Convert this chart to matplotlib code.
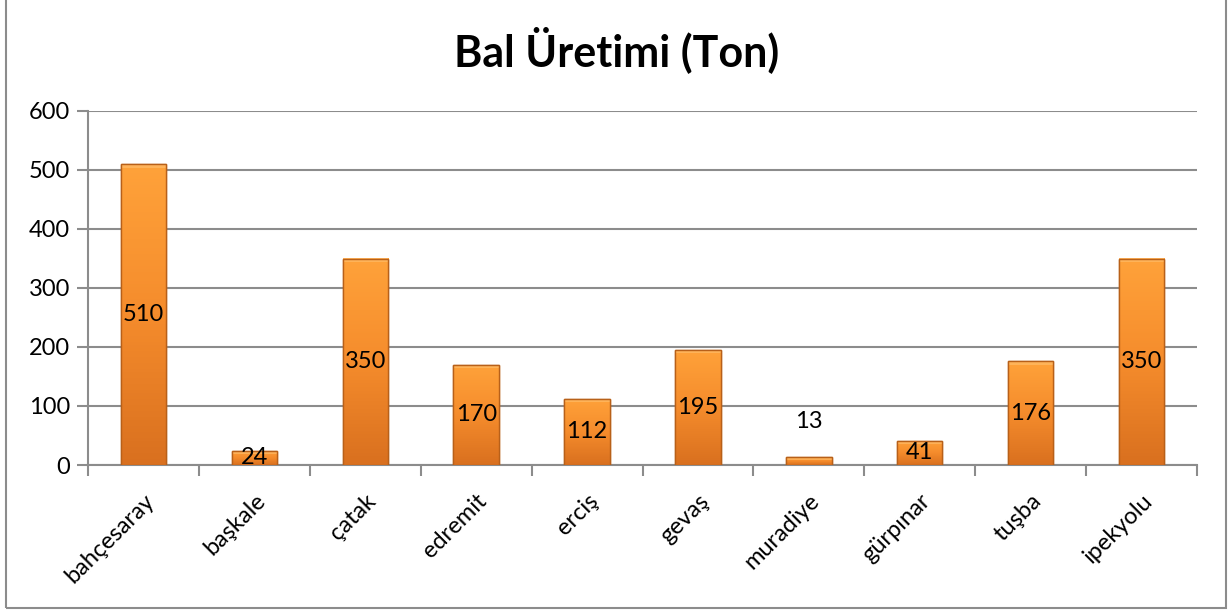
import matplotlib
matplotlib.use("Agg")
import matplotlib.pyplot as plt
import numpy as np
from matplotlib.patches import Rectangle
from matplotlib.colors import LinearSegmentedColormap

plt.rcParams['font.family'] = ['Lato', 'DejaVu Sans']

ilceler = ['bahçesaray', 'başkale', 'çatak', 'edremit', 'erciş', 'gevaş',
           'muradiye', 'gürpınar', 'tuşba', 'ipekyolu']
uretim = [510, 24, 350, 170, 112, 195, 13, 41, 176, 350]
yticks = [0, 100, 200, 300, 400, 500, 600]

fig = plt.figure(figsize=(12.29, 6.12), dpi=100)
ax = fig.add_axes([88 / 1229, 1 - 465 / 612, (1197 - 88) / 1229, (465 - 111) / 612])

# dis cerceve
fig.patches.append(Rectangle((6 / 1229, 4 / 612), 1220 / 1229, 612 / 612, transform=fig.transFigure,
                             fill=False, edgecolor='#8c8c8c', linewidth=1.5))

x = np.arange(len(ilceler))
w = 0.41
bars = ax.bar(x, uretim, width=w, color='#f28a2a', edgecolor='#c0661c', linewidth=1, zorder=3)

# turuncu gradyan (ustte acik, altta koyu)
cmap = LinearSegmentedColormap.from_list('tur', ['#ffa23a', '#f58c2c', '#d9701f'])
grad = np.linspace(0, 1, 100).reshape(-1, 1)
for b in bars:
    x0, y0, bw, bh = b.get_x(), b.get_y(), b.get_width(), b.get_height()
    im = ax.imshow(grad, cmap=cmap, aspect='auto', extent=(x0, x0 + bw, y0, y0 + bh),
                   zorder=3.5, origin='upper')
    im.set_clip_path(b)
    # ust parlaklik
    ax.add_patch(Rectangle((x0, y0 + bh - min(6, bh * 0.4)), bw, min(6, bh * 0.4),
                           facecolor='#ffc070', edgecolor='none', alpha=0.6, zorder=3.6))
    ax.add_patch(Rectangle((x0, y0), bw, bh, fill=False, edgecolor='#b86019',
                           linewidth=1, zorder=3.7))

for xi, v in zip(x, uretim):
    if v < 20:
        ax.text(xi, 73, str(v), ha='center', va='center', fontsize=17, zorder=5)
    else:
        ax.text(xi, v / 2, str(v), ha='center', va='center', fontsize=17, zorder=5)

ax.set_xlim(-0.5, len(ilceler) - 0.5)
ax.set_ylim(0, 600)
ax.set_yticks(yticks)
ax.set_yticklabels([str(t) for t in yticks], fontsize=17)
ax.yaxis.grid(True, color='#8c8c8c', linewidth=1.5, zorder=0)
ax.tick_params(axis='y', length=8, width=1.5, color='#8c8c8c', pad=5)

ax.set_xticks(x)
ax.set_xticklabels(ilceler, rotation=45, ha='right', rotation_mode='anchor', fontsize=17)
ax.set_xticks(np.arange(-0.5, len(ilceler)), minor=True)
ax.tick_params(axis='x', which='major', length=0, pad=18)
ax.tick_params(axis='x', which='minor', length=8, width=1.5, color='#8c8c8c')

for s in ['top', 'right']:
    ax.spines[s].set_visible(False)
for s in ['left', 'bottom']:
    ax.spines[s].set_color('#8c8c8c')
    ax.spines[s].set_linewidth(1.5)

fig.text(0.5 + 2 / 1229, 1 - 50 / 612, 'Bal Üretimi (Ton)', ha='center', va='center',
         fontsize=31, fontweight='bold')

fig.savefig('out.png', dpi=100)
